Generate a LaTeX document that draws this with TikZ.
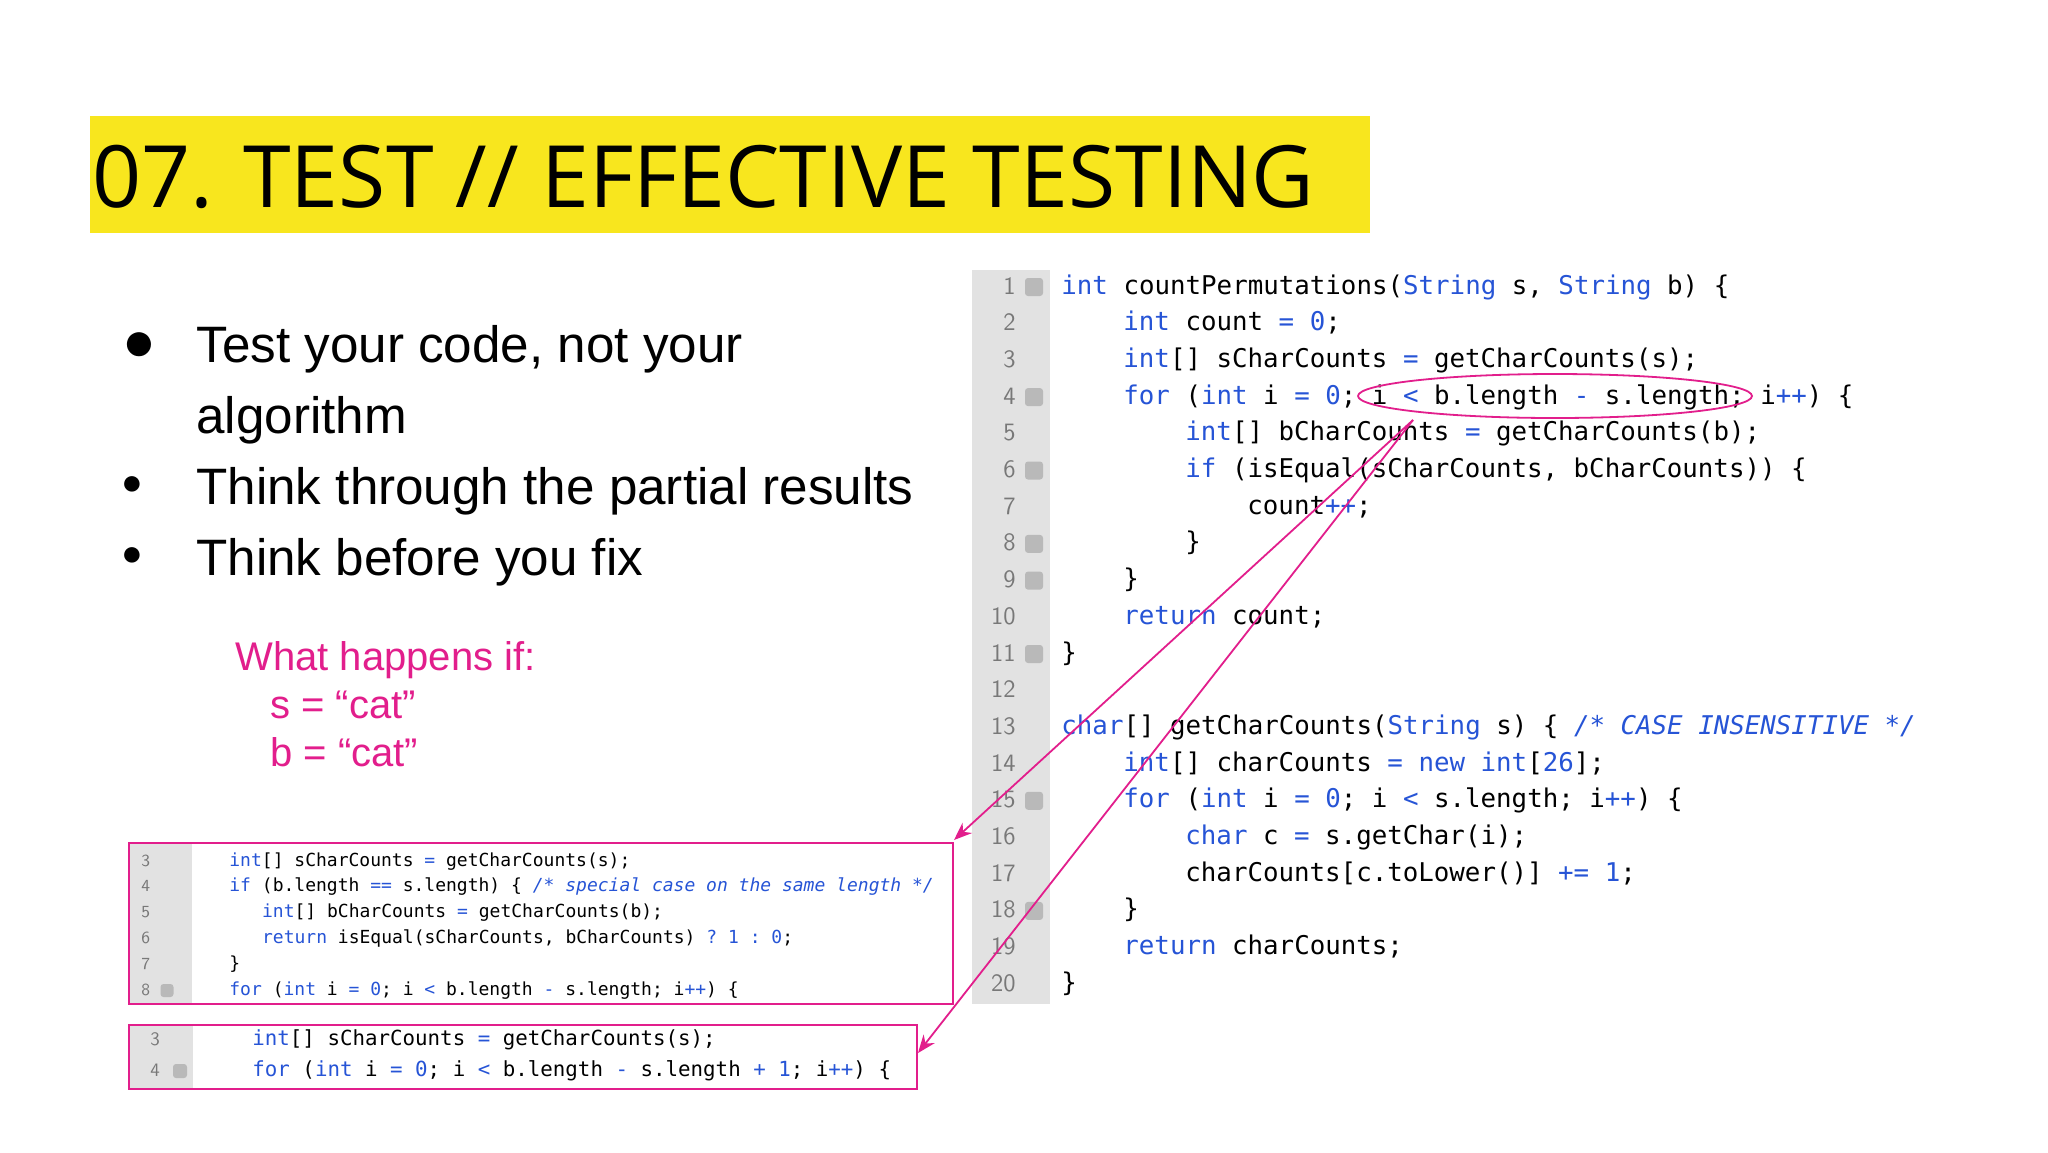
\documentclass[tikz,border=0pt]{standalone}
\usepackage{fontspec}
\setmainfont{Liberation Sans}
\setmonofont{DejaVu Sans Mono}
\newfontfamily\titlefont{Open Sans}
\usetikzlibrary{shapes.geometric,arrows.meta}
\definecolor{kwc}{RGB}{38,84,214}
\definecolor{pinkc}{RGB}{226,30,140}
\definecolor{titley}{RGB}{248,230,30}
\definecolor{gutc}{RGB}{226,226,226}
\definecolor{numc}{RGB}{120,120,120}
\newcommand{\kw}[1]{\textcolor{kwc}{#1}}
\newcommand{\cmt}[1]{\textcolor{kwc}{\itshape #1}}
\begin{document}
\begin{tikzpicture}[x=0.5pt,y=-0.5pt,
  mc/.style={anchor=base west,inner sep=0,font=\ttfamily\fontsize{12.9}{14}\selectfont},
  bc/.style={anchor=base west,inner sep=0,font=\ttfamily\fontsize{9}{10}\selectfont},
  cc/.style={anchor=base west,inner sep=0,font=\ttfamily\fontsize{10.4}{12}\selectfont},
  mn/.style={anchor=base east,inner sep=0,text=numc,font=\sffamily\fontsize{12.5}{14}\selectfont},
  bn/.style={anchor=base west,inner sep=0,text=numc,font=\sffamily\fontsize{8.5}{10}\selectfont},
  fold/.style={fill=gray!55,rounded corners=1.5pt,minimum size=9pt,inner sep=0},
  bul/.style={anchor=base west,inner sep=0,font=\fontsize{25.6}{30}\selectfont},
  pk/.style={anchor=base west,inner sep=0,text=pinkc,font=\fontsize{20}{24}\selectfont},
  parrow/.style={pinkc,line width=0.9pt,-{Stealth[length=9pt,width=7pt]}}]
\useasboundingbox (0,0) rectangle (2048,1152);
\fill[white] (0,0) rectangle (2048,1152);
% title
\node[fill=titley,minimum width=640pt,minimum height=58.5pt,anchor=north west,inner sep=0] (tbar) at (90,116) {};
\node[anchor=west,inner sep=0,font=\titlefont\fontsize{43}{50}\selectfont] (title) at (92,177) {07. TEST // EFFECTIVE TESTING};
% bullets
\node[anchor=center,inner sep=0,font=\fontsize{28}{30}\selectfont] (d1) at (139,347) {●};
\node[anchor=center,inner sep=0,font=\fontsize{18}{30}\selectfont] (d2) at (132,486) {●};
\node[anchor=center,inner sep=0,font=\fontsize{18}{30}\selectfont] (d3) at (132,557) {●};
\node[bul] (b1) at (196,362) {Test your code, not your};
\node[bul] (b1b) at (196,433) {algorithm};
\node[bul] (b2) at (196,504) {Think through the partial results};
\node[bul] (b3) at (196,575) {Think before you fix};
\node[pk] (q1) at (235,670) {What happens if:};
\node[pk] (q2) at (270,718) {s = “cat”};
\node[pk] (q3) at (270,766) {b = “cat”};
% main code gutter
\fill[gutc] (972,270) rectangle (1050,1004);
\foreach \n in {1,...,20}{\node[mn] (n\n) at (1016,{294+(\n-1)*36.7}) {\n};}
\foreach \n in {1,4,6,8,9,11,15,18}{\node[fold] (f\n) at (1034,{287+(\n-1)*36.7}) {};}
\def\cx#1{1061+#1*15.5}
\node[mc] (m1) at (\cx{0},{294+0*36.7}) {\kw{int} countPermutations(\kw{String} s, \kw{String} b) \{};
\node[mc] (m2) at (\cx{4},{294+1*36.7}) {\kw{int} count \kw{=} \kw{0};};
\node[mc] (m3) at (\cx{4},{294+2*36.7}) {\kw{int}[] sCharCounts \kw{=} getCharCounts(s);};
\node[mc] (m4) at (\cx{4},{294+3*36.7}) {\kw{for} (\kw{int} i \kw{=} \kw{0}; i \kw{<} b.length \kw{-} s.length; i\kw{++}) \{};
\node[mc] (m5) at (\cx{8},{294+4*36.7}) {\kw{int}[] bCharCounts \kw{=} getCharCounts(b);};
\node[mc] (m6) at (\cx{8},{294+5*36.7}) {\kw{if} (isEqual(sCharCounts, bCharCounts)) \{};
\node[mc] (m7) at (\cx{12},{294+6*36.7}) {count\kw{++};};
\node[mc] (m8) at (\cx{8},{294+7*36.7}) {\}};
\node[mc] (m9) at (\cx{4},{294+8*36.7}) {\}};
\node[mc] (m10) at (\cx{4},{294+9*36.7}) {\kw{return} count;};
\node[mc] (m11) at (\cx{0},{294+10*36.7}) {\}};
\node[mc] (m13) at (\cx{0},{294+12*36.7}) {\kw{char}[] getCharCounts(\kw{String} s) \{ \cmt{/* CASE INSENSITIVE */}};
\node[mc] (m14) at (\cx{4},{294+13*36.7}) {\kw{int}[] charCounts \kw{=} \kw{new} \kw{int}[\kw{26}];};
\node[mc] (m15) at (\cx{4},{294+14*36.7}) {\kw{for} (\kw{int} i \kw{=} \kw{0}; i \kw{<} s.length; i\kw{++}) \{};
\node[mc] (m16) at (\cx{8},{294+15*36.7}) {\kw{char} c \kw{=} s.getChar(i);};
\node[mc] (m17) at (\cx{8},{294+16*36.7}) {charCounts[c.toLower()] \kw{+=} \kw{1};};
\node[mc] (m18) at (\cx{4},{294+17*36.7}) {\}};
\node[mc] (m19) at (\cx{4},{294+18*36.7}) {\kw{return} charCounts;};
\node[mc] (m20) at (\cx{0},{294+19*36.7}) {\}};
% ellipse
\node[ellipse,draw=pinkc,line width=0.9pt,minimum width=197pt,minimum height=22pt,inner sep=0] (ell) at (1555,396) {};
\coordinate (src) at (1413,420);
% box 1
\fill[gutc] (129,843) rectangle (192,1004);
\draw[pinkc,line width=1.2pt] (129,843) rectangle (953,1004);
\coordinate (box1) at (954,840);
\def\bx#1{229+#1*10.9}
\foreach \n/\k in {3/0,4/1,5/2,6/3,7/4,8/5}{\node[bn] (bn\n) at (141,{866+\k*25.9}) {\n};}
\node[fold,minimum size=6.5pt] (bf8) at (167,{861+5*25.9}) {};
\node[bc] (k3) at (\bx{0},{866+0*25.9}) {\kw{int}[] sCharCounts \kw{=} getCharCounts(s);};
\node[bc] (k4) at (\bx{0},{866+1*25.9}) {\kw{if} (b.length \kw{==} s.length) \{ \cmt{/* special case on the same length */}};
\node[bc] (k5) at (\bx{3},{866+2*25.9}) {\kw{int}[] bCharCounts \kw{=} getCharCounts(b);};
\node[bc] (k6) at (\bx{3},{866+3*25.9}) {\kw{return} isEqual(sCharCounts, bCharCounts) \kw{? 1 : 0};};
\node[bc] (k7) at (\bx{0},{866+4*25.9}) {\}};
\node[bc] (k8) at (\bx{0},{866+5*25.9}) {\kw{for} (\kw{int} i \kw{=} \kw{0}; i \kw{<} b.length \kw{-} s.length; i\kw{++}) \{};
% box 2
\fill[gutc] (129,1025) rectangle (193,1089);
\draw[pinkc,line width=1.2pt] (129,1025) rectangle (917,1089);
\coordinate (box2) at (918,1053);
\node[bn,font=\sffamily\fontsize{9.5}{10}\selectfont] (cn3) at (150,1045) {3};
\node[bn,font=\sffamily\fontsize{9.5}{10}\selectfont] (cn4) at (150,1076) {4};
\node[fold,minimum size=7pt] (cf4) at (180,1071) {};
\node[cc] (c3) at (252,1045) {\kw{int}[] sCharCounts \kw{=} getCharCounts(s);};
\node[cc] (c4) at (252,1076) {\kw{for} (\kw{int} i \kw{=} \kw{0}; i \kw{<} b.length \kw{-} s.length \kw{+ 1}; i\kw{++}) \{};
% arrows
\draw[parrow] (src) -- (box1);
\draw[parrow] (src) -- (box2);
\end{tikzpicture}
\end{document}
